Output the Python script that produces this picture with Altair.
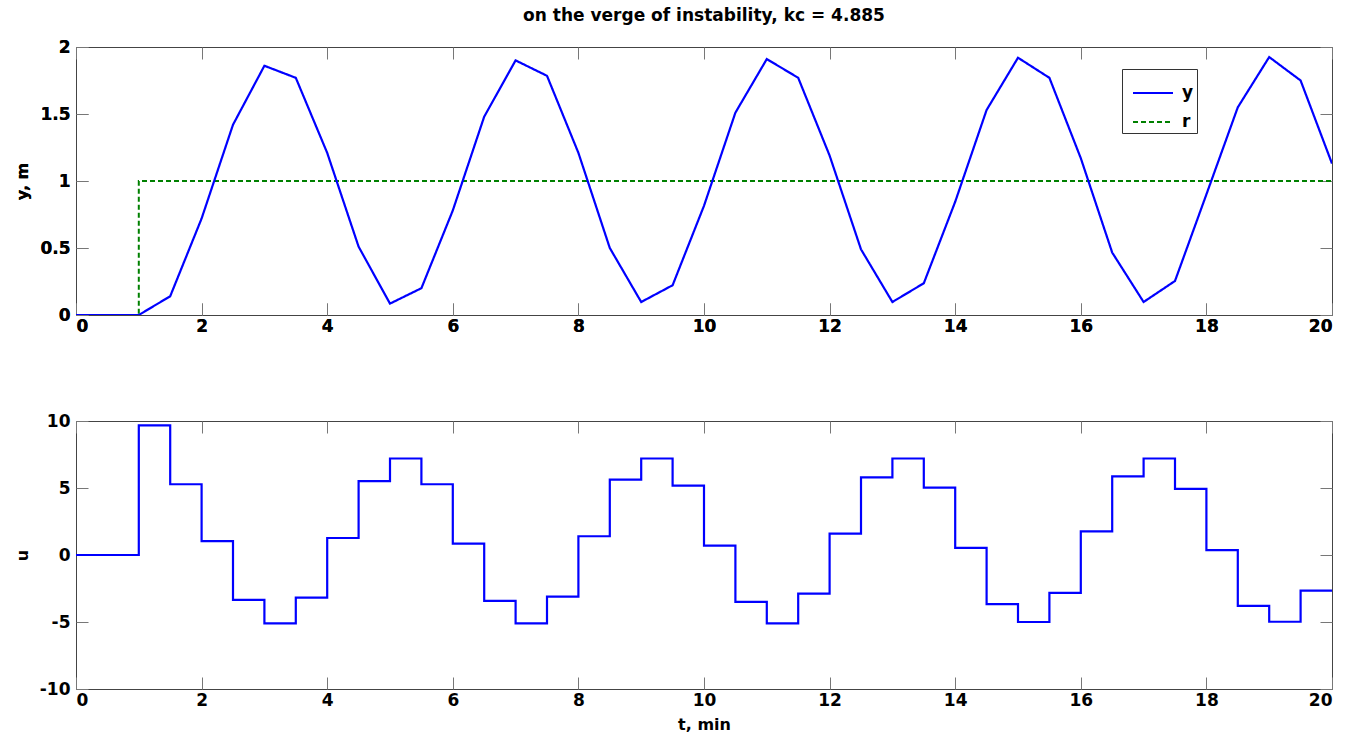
import altair as alt
import pandas as pd

# sample times (min)
t = [0, 0.5, 1, 1.5, 2, 2.5, 3, 3.5, 4, 4.5, 5, 5.5, 6, 6.5, 7, 7.5, 8, 8.5, 9, 9.5,
     10, 10.5, 11, 11.5, 12, 12.5, 13, 13.5, 14, 14.5, 15, 15.5, 16, 16.5, 17, 17.5,
     18, 18.5, 19, 19.5, 20]
# process output y (m)
y = [0, 0, 0, 0.14, 0.72, 1.42, 1.86, 1.77, 1.21, 0.51, 0.085, 0.2, 0.78, 1.48, 1.9,
     1.785, 1.21, 0.5, 0.097, 0.222, 0.815, 1.51, 1.91, 1.77, 1.19, 0.49, 0.097, 0.237,
     0.845, 1.53, 1.92, 1.77, 1.17, 0.466, 0.097, 0.254, 0.9, 1.55, 1.925, 1.75, 1.13]
# setpoint r
r = [0, 0, 1, 1, 1, 1, 1, 1, 1, 1, 1, 1, 1, 1, 1, 1, 1, 1, 1, 1,
     1, 1, 1, 1, 1, 1, 1, 1, 1, 1, 1, 1, 1, 1, 1, 1, 1, 1, 1, 1, 1]
# controller output u (held over each sample)
u = [0, 0, 9.68, 5.28, 1.03, -3.35, -5.1, -3.18, 1.27, 5.52, 7.2, 5.28, 0.85, -3.42,
     -5.1, -3.1, 1.4, 5.62, 7.2, 5.18, 0.7, -3.5, -5.1, -2.88, 1.6, 5.8, 7.2, 5.03,
     0.53, -3.67, -5.0, -2.83, 1.77, 5.87, 7.2, 4.93, 0.36, -3.8, -4.98, -2.66, -2.66]

x_ticks = [0, 2, 4, 6, 8, 10, 12, 14, 16, 18, 20]
y_ticks = [0, 0.5, 1, 1.5, 2]
u_ticks = [-10, -5, 0, 5, 10]

FONT = "DejaVu Sans"
W, H = 1256, 268
TICK = 12
LBL = "datum.value + ''"

df_top = pd.DataFrame({
    "t": t * 2,
    "val": y + r,
    "series": ["y"] * len(t) + ["r"] * len(t),
})
df_u = pd.DataFrame({"t": t, "u": u})

xscale = alt.Scale(domain=[0, 20], nice=False, zero=False)


def x_axis(labels=True, title=None, orient="bottom"):
    kw = dict(values=x_ticks, orient=orient, tickSize=TICK, offset=-TICK, domain=False,
              grid=False, tickColor="#777", labels=labels, labelPadding=3,
              labelExpr=LBL, labelFont=FONT, labelFontSize=17, labelFontWeight="bold",
              labelColor="black", titleFont=FONT, titleFontSize=16,
              titleFontWeight="bold", titleColor="black", titlePadding=8)
    kw["title"] = title if title else ""
    return alt.Axis(**kw)


def y_axis(vals, labels=True, title=None, orient="left"):
    kw = dict(values=vals, orient=orient, tickSize=TICK, offset=-TICK, domain=False,
              grid=False, tickColor="#777", labels=labels, labelPadding=6,
              labelExpr=LBL, labelFont=FONT, labelFontSize=17, labelFontWeight="bold",
              labelColor="black", titleFont=FONT, titleFontSize=16,
              titleFontWeight="bold", titleColor="black", titlePadding=9)
    kw["title"] = title if title else ""
    return alt.Axis(**kw)


def legend():
    return alt.Legend(
        title=None, orient="none", legendX=1046, legendY=22,
        symbolType="stroke", symbolSize=1600, symbolStrokeWidth=2,
        symbolOffset=7,
        labelFont=FONT, labelFontSize=17, labelFontWeight="bold", labelColor="black",
        labelExpr="datum.label + '  '",
        strokeColor="#333", fillColor="white", padding=3, rowPadding=0,
        labelOffset=8,
    )


color = alt.Color(
    "series:N",
    scale=alt.Scale(domain=["y", "r"], range=["#0000ff", "#008000"]),
    legend=legend(),
)
dash = alt.StrokeDash(
    "series:N",
    scale=alt.Scale(domain=["y", "r"], range=[[1, 0], [5, 3]]),
    legend=legend(),
)

yscale = alt.Scale(domain=[0, 2], nice=False, zero=False)

r_line = alt.Chart(df_top).transform_filter(alt.datum.series == "r").mark_line(
    strokeWidth=2, interpolate="step-after", clip=True
).encode(
    x=alt.X("t:Q", scale=xscale, axis=x_axis()),
    y=alt.Y("val:Q", scale=yscale, axis=y_axis(y_ticks, title="y, m")),
    color=color, strokeDash=dash,
)
y_line = alt.Chart(df_top).transform_filter(alt.datum.series == "y").mark_line(
    strokeWidth=2.2, interpolate="linear", clip=True
).encode(
    x=alt.X("t:Q", scale=xscale, axis=x_axis()),
    y=alt.Y("val:Q", scale=yscale, axis=y_axis(y_ticks, title="y, m")),
    color=color, strokeDash=dash,
)
top_box = alt.Chart(df_top).mark_line(opacity=0).encode(
    x=alt.X("t:Q", scale=xscale, axis=x_axis(labels=False, orient="top")),
    y=alt.Y("val:Q", scale=yscale, axis=y_axis(y_ticks, labels=False, orient="right")),
)

top = alt.layer(r_line, y_line, top_box).resolve_axis(
    x="independent", y="independent"
).properties(
    width=W, height=H,
    title=alt.TitleParams(
        "on the verge of instability, kc = 4.885", font=FONT, fontSize=17,
        fontWeight="bold", color="black", anchor="middle", frame="group", offset=13,
    ),
)

uscale = alt.Scale(domain=[-10, 10], nice=False, zero=False)
u_line = alt.Chart(df_u).mark_line(
    strokeWidth=2.2, interpolate="step-after", color="#0000ff", clip=True
).encode(
    x=alt.X("t:Q", scale=xscale, axis=x_axis(title="t, min")),
    y=alt.Y("u:Q", scale=uscale, axis=y_axis(u_ticks, title="u")),
)
u_box = alt.Chart(df_u).mark_line(opacity=0).encode(
    x=alt.X("t:Q", scale=xscale, axis=x_axis(labels=False, orient="top")),
    y=alt.Y("u:Q", scale=uscale, axis=y_axis(u_ticks, labels=False, orient="right")),
)
bottom = alt.layer(u_line, u_box).resolve_axis(
    x="independent", y="independent"
).properties(width=W, height=H)

chart = alt.vconcat(top, bottom, spacing=76).properties(
    padding={"left": 13, "top": 6, "right": 2, "bottom": 2},
    background="white",
).configure_view(
    stroke="#444", strokeWidth=1,
)

chart.save("out.html", embed_options={"renderer": "svg", "actions": False})
